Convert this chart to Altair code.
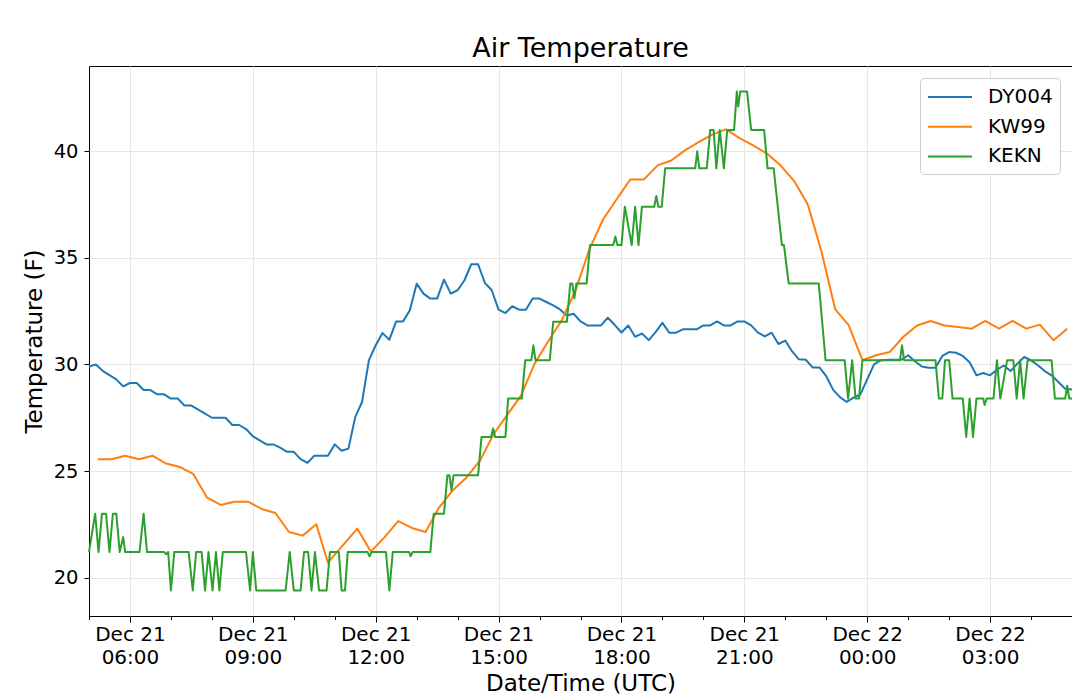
import altair as alt
import pandas as pd

# ---------------- data (minutes after 2018-12-21 05:00 UTC, deg F) ----------------
dy004_min = [0, 10, 20, 30, 40, 50, 60, 70, 80, 90, 100, 110, 120, 130, 140, 150, 160, 170, 180, 190,
             200, 210, 220, 230, 240, 250, 260, 270, 280, 290, 300, 310, 320, 330, 340, 350, 360, 370, 380, 390,
             400, 410, 420, 430, 440, 450, 460, 470, 480, 490, 500, 510, 520, 530, 540, 550, 560, 570, 580, 590,
             600, 610, 620, 630, 640, 650, 660, 670, 680, 690, 700, 710, 720, 730, 740, 750, 760, 770, 780, 790,
             800, 810, 820, 830, 840, 850, 860, 870, 880, 890, 900, 910, 920, 930, 940, 950, 960, 970, 980, 990,
             1000, 1010, 1020, 1030, 1040, 1050, 1060, 1070, 1080, 1090, 1100, 1110, 1120, 1130, 1140, 1150,
             1160, 1170, 1180, 1190, 1200, 1210, 1220, 1230, 1240, 1250, 1260, 1270, 1280, 1290, 1300, 1310,
             1320, 1330, 1340, 1350, 1360, 1370, 1380, 1390, 1400, 1410, 1420, 1430, 1440]
dy004_val = [29.9, 30.0, 29.7, 29.5, 29.3, 28.97, 29.13, 29.13, 28.8, 28.8, 28.6, 28.6, 28.4, 28.4, 28.07,
             28.07, 27.88, 27.69, 27.5, 27.5, 27.5, 27.16, 27.16, 26.97, 26.63, 26.44, 26.25, 26.25, 26.1, 25.9,
             25.9, 25.56, 25.38, 25.72, 25.72, 25.72, 26.25, 25.95, 26.05, 27.53, 28.24, 30.19, 30.9, 31.47,
             31.16, 32.02, 32.02, 32.54, 33.79, 33.32, 33.09, 33.09, 33.98, 33.32, 33.48, 33.95, 34.7, 34.7,
             33.82, 33.48, 32.57, 32.41, 32.73, 32.57, 32.57, 33.09, 33.09, 32.93, 32.77, 32.58, 32.3, 32.38,
             32.02, 31.83, 31.83, 31.83, 32.19, 31.86, 31.5, 31.83, 31.3, 31.45, 31.14, 31.52, 31.95, 31.49,
             31.49, 31.65, 31.65, 31.65, 31.83, 31.83, 32.02, 31.83, 31.83, 32.02, 32.02, 31.83, 31.49, 31.32,
             31.49, 30.96, 31.12, 30.61, 30.24, 30.22, 29.86, 29.86, 29.45, 28.82, 28.47, 28.24, 28.44, 28.6,
             29.3, 30.0, 30.2, 30.22, 30.22, 30.22, 30.43, 30.15, 29.9, 29.85, 29.85, 30.4, 30.58, 30.55, 30.4,
             30.1, 29.49, 29.6, 29.49, 29.75, 29.95, 29.69, 30.04, 30.35, 30.19, 29.96, 29.69, 29.49, 29.18,
             28.86, 28.82]

kw99_min = [13, 33, 53, 73, 93, 113, 133, 153, 173, 193, 213, 233, 253, 273, 293, 313, 333, 350, 393, 413,
            433, 453, 473, 493, 513, 533, 553, 573, 593, 613, 633, 653, 673, 693, 713, 733, 753, 773, 793, 813,
            833, 853, 873, 893, 913, 933, 953, 973, 993, 1013, 1033, 1053, 1073, 1093, 1113, 1133, 1153, 1173,
            1193, 1213, 1233, 1253, 1273, 1293, 1313, 1333, 1353, 1373, 1393, 1413, 1433]
kw99_val = [25.55, 25.55, 25.72, 25.55, 25.72, 25.35, 25.19, 24.85, 23.75, 23.41, 23.56, 23.56, 23.22, 23.03,
            22.14, 21.97, 22.5, 20.7, 22.3, 21.22, 21.9, 22.65, 22.33, 22.14, 23.3, 24.1, 24.7, 25.5, 26.75,
            27.65, 28.55, 30.05, 31.1, 32.1, 33.5, 35.4, 36.8, 37.75, 38.68, 38.68, 39.34, 39.57, 40.04, 40.43,
            40.78, 41.03, 40.62, 40.28, 39.89, 39.34, 38.6, 37.5, 35.3, 32.6, 31.83, 30.2, 30.43, 30.58, 31.3,
            31.83, 32.04, 31.83, 31.76, 31.68, 32.04, 31.68, 32.04, 31.68, 31.87, 31.13, 31.68]

kekn_min = [0, 9, 14, 19, 25, 30, 35, 40, 45, 50, 53, 74, 80, 85, 110, 113, 116, 120, 125, 146, 152, 157,
            165, 170, 175, 181, 186, 191, 196, 230, 236, 240, 245, 288, 294, 300, 310, 315, 321, 326, 331, 337,
            348, 353, 366, 370, 375, 379, 408, 411, 414, 435, 440, 445, 469, 471, 474, 500, 505, 520, 525, 528,
            531, 534, 570, 575, 589, 592, 595, 610, 614, 634, 639, 648, 651, 654, 675, 680, 700, 705, 708, 711,
            714, 729, 734, 768, 771, 774, 780, 785, 795, 800, 805, 810, 828, 831, 834, 839, 844, 888, 891, 894,
            905, 910, 915, 919, 924, 930, 935, 945, 949, 951, 954, 964, 970, 989, 994, 1003, 1015, 1018, 1025,
            1069, 1079, 1107, 1112, 1118, 1123, 1128, 1133, 1188, 1191, 1194, 1240, 1245, 1250, 1254, 1260,
            1265, 1280, 1285, 1290, 1295, 1300, 1310, 1312, 1315, 1325, 1330, 1335, 1345, 1354, 1359, 1364,
            1369, 1375, 1410, 1415, 1430, 1433, 1436, 1440]
kekn_val = [21.2, 23.0, 21.2, 23.0, 23.0, 21.2, 23.0, 23.0, 21.2, 21.9, 21.2, 21.2, 23.0, 21.2, 21.2, 21.1,
            21.2, 19.4, 21.2, 21.2, 19.4, 21.2, 21.2, 19.4, 21.2, 19.4, 21.2, 19.4, 21.2, 21.2, 19.4, 21.2,
            19.4, 19.4, 21.2, 19.4, 19.4, 21.2, 21.2, 19.4, 21.2, 19.4, 19.4, 21.2, 21.2, 19.4, 19.4, 21.2,
            21.2, 21.0, 21.2, 21.2, 19.4, 21.2, 21.2, 21.0, 21.2, 21.2, 23.0, 23.0, 24.8, 24.8, 24.1, 24.8,
            24.8, 26.6, 26.6, 27.0, 26.6, 26.6, 28.4, 28.4, 30.2, 30.2, 30.9, 30.2, 30.2, 32.0, 32.0, 33.8,
            33.8, 33.1, 33.8, 33.8, 35.6, 35.6, 36.0, 35.6, 35.6, 37.4, 35.6, 37.4, 35.6, 37.4, 37.4, 37.9,
            37.4, 37.4, 39.2, 39.2, 40.0, 39.2, 39.2, 41.0, 41.0, 39.2, 41.0, 39.2, 41.0, 41.0, 42.8, 42.1,
            42.8, 42.8, 41.0, 41.0, 39.2, 39.2, 35.6, 35.6, 33.8, 33.8, 30.2, 30.2, 28.4, 30.2, 28.4, 28.4,
            30.2, 30.2, 30.9, 30.2, 30.2, 28.4, 28.4, 30.2, 30.2, 28.4, 28.4, 26.6, 28.4, 26.6, 28.4, 28.4,
            28.1, 28.4, 28.4, 30.2, 28.4, 30.2, 30.2, 28.4, 30.2, 28.4, 30.2, 30.2, 28.4, 28.4, 29.0, 28.4,
            28.4]

stations = ["DY004", "KW99", "KEKN"]
colors = ["#1f77b4", "#ff7f0e", "#2ca02c"]
series = {"DY004": (dy004_min, dy004_val), "KW99": (kw99_min, kw99_val), "KEKN": (kekn_min, kekn_val)}

# axis tick hours (hours after 2018-12-21 00:00 UTC)
tick_hours = [5, 6, 7, 8, 9, 10, 11, 12, 13, 14, 15, 16, 17, 18, 19, 20, 21, 22, 23, 24, 25, 26, 27, 28, 29]
y_ticks = [20, 25, 30, 35, 40]
y_domain = [18.2, 44.0]

base_time = pd.Timestamp("2018-12-21T05:00:00Z")
rows = []
for name in stations:
    mins, vals = series[name]
    for m, v in zip(mins, vals):
        t = base_time + pd.Timedelta(minutes=m)
        rows.append({"time": t.strftime("%Y-%m-%dT%H:%M:%SZ"), "temp": v, "station": name})
df = pd.DataFrame(rows)


def dt(h):
    return alt.DateTime(year=2018, month=12, date=21 + h // 24, hours=h % 24, utc=True)


FONT = "DejaVu Sans"
major = "utchours(datum.value) % 3 == 0"

x_axis = alt.Axis(
    values=[dt(h) for h in tick_hours],
    labelExpr="utchours(datum.value) % 3 == 0 ? [utcFormat(datum.value, '%b %d'), utcFormat(datum.value, '%H:%M')] : ''",
    labelFontSize=20, labelLineHeight=23, labelColor="black", labelFont=FONT,
    labelOverlap=False, labelFlush=False, labelPadding=2,
    tickColor="black", tickSize={"condition": {"test": major, "value": 6}, "value": 3.5},
    grid=True, gridColor="#e6e6e6", gridWidth=1,
    gridOpacity={"condition": {"test": major, "value": 1}, "value": 0},
    domain=False,
    title="Date/Time (UTC)", titleFontSize=23, titleFontWeight="normal", titleColor="black",
    titleFont=FONT, titlePadding=5,
)
y_axis = alt.Axis(
    values=y_ticks, labelFontSize=19.5, labelColor="black", labelFont=FONT, labelPadding=6,
    tickColor="black", tickSize=5, grid=True, gridColor="#e6e6e6", gridWidth=1, domain=False,
    title="Temperature (F)", titleFontSize=23, titleFontWeight="normal", titleColor="black",
    titleFont=FONT, titlePadding=7,
)

color = alt.Color(
    "station:N",
    scale=alt.Scale(domain=stations, range=colors),
    legend=alt.Legend(
        title=None, orient="top-right", offset=12, fillColor="white", strokeColor="#cccccc",
        cornerRadius=4, padding=7, symbolType="M-2,0H2", symbolSize=484, symbolStrokeWidth=2,
        symbolOffset=11, labelFontSize=20, labelFont=FONT, labelColor="black", labelOffset=26,
        rowPadding=7.7,
    ),
)

base = alt.Chart(df).mark_line(strokeWidth=2, strokeJoin="round").encode(
    x=alt.X("time:T", scale=alt.Scale(type="utc", domain=[dt(5), dt(29)]), axis=x_axis),
    y=alt.Y("temp:Q", scale=alt.Scale(domain=y_domain, nice=False, zero=False), axis=y_axis),
    color=color,
)

layers = [base.transform_filter(alt.datum.station == s) for s in stations]

chart = alt.layer(*layers).properties(
    width=983, height=550,
    title=alt.TitleParams("Air Temperature", fontSize=27, fontWeight="normal", font=FONT,
                          color="black", anchor="middle", offset=3),
    autosize=alt.AutoSizeParams(type="none"),
    padding={"left": 81, "top": 58, "right": 0, "bottom": 82},
).configure(font=FONT, background="white").configure_view(stroke="black", strokeWidth=1)

chart.save("out.html", embed_options={"renderer": "svg", "actions": False})
